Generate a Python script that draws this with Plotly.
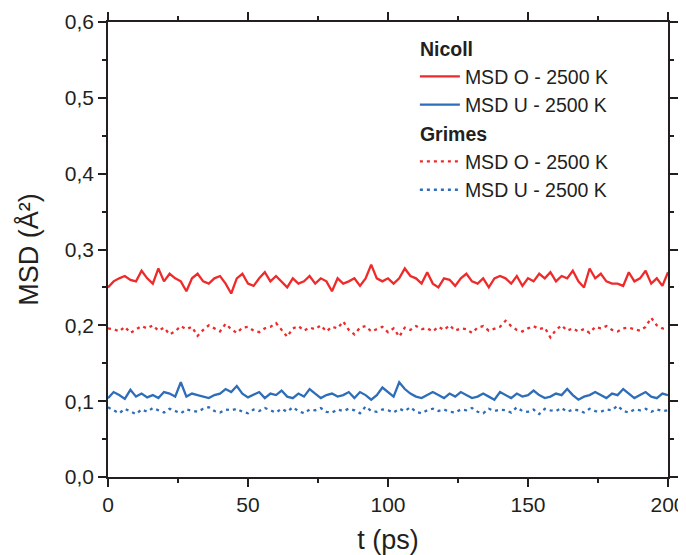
import plotly.graph_objects as go

t_ps = list(range(0, 201, 2))

nicoll_O = [
    0.250, 0.258, 0.262, 0.265, 0.260, 0.258, 0.272, 0.262, 0.255, 0.275,
    0.258, 0.268, 0.262, 0.258, 0.245, 0.262, 0.268, 0.258, 0.255, 0.262,
    0.265, 0.255, 0.242, 0.262, 0.268, 0.255, 0.252, 0.262, 0.270, 0.258,
    0.265, 0.258, 0.250, 0.262, 0.255, 0.258, 0.265, 0.255, 0.262, 0.258,
    0.245, 0.262, 0.255, 0.258, 0.262, 0.252, 0.262, 0.280, 0.262, 0.258,
    0.262, 0.255, 0.262, 0.275, 0.265, 0.262, 0.255, 0.270, 0.255, 0.250,
    0.262, 0.260, 0.252, 0.262, 0.268, 0.258, 0.255, 0.262, 0.250, 0.262,
    0.265, 0.262, 0.255, 0.265, 0.252, 0.262, 0.258, 0.268, 0.262, 0.270,
    0.258, 0.265, 0.262, 0.272, 0.258, 0.250, 0.275, 0.262, 0.268, 0.258,
    0.255, 0.255, 0.252, 0.270, 0.258, 0.262, 0.272, 0.255, 0.262, 0.252,
    0.270,
]

nicoll_U = [
    0.104, 0.112, 0.108, 0.103, 0.115, 0.106, 0.110, 0.105, 0.108, 0.104,
    0.112, 0.110, 0.106, 0.125, 0.106, 0.110, 0.108, 0.106, 0.104, 0.108,
    0.110, 0.116, 0.112, 0.120, 0.110, 0.105, 0.108, 0.112, 0.104, 0.110,
    0.108, 0.114, 0.106, 0.104, 0.110, 0.106, 0.116, 0.110, 0.104, 0.108,
    0.110, 0.106, 0.108, 0.112, 0.104, 0.112, 0.108, 0.102, 0.108, 0.118,
    0.112, 0.106, 0.125, 0.116, 0.110, 0.106, 0.104, 0.108, 0.112, 0.108,
    0.104, 0.110, 0.106, 0.112, 0.108, 0.104, 0.106, 0.110, 0.106, 0.102,
    0.112, 0.108, 0.104, 0.110, 0.106, 0.108, 0.114, 0.108, 0.104, 0.106,
    0.110, 0.108, 0.116, 0.108, 0.102, 0.106, 0.108, 0.112, 0.108, 0.104,
    0.110, 0.108, 0.116, 0.110, 0.104, 0.108, 0.112, 0.106, 0.104, 0.110,
    0.108,
]

grimes_O = [
    0.196, 0.195, 0.192, 0.198, 0.190, 0.194, 0.199, 0.196, 0.200, 0.193,
    0.197, 0.188, 0.192, 0.199, 0.195, 0.198, 0.186, 0.194, 0.200, 0.196,
    0.192, 0.202, 0.195, 0.190, 0.197, 0.198, 0.193, 0.191, 0.196, 0.198,
    0.203, 0.194, 0.185, 0.196, 0.199, 0.193, 0.197, 0.195, 0.200, 0.192,
    0.198, 0.196, 0.205, 0.194, 0.188, 0.197, 0.199, 0.192, 0.195, 0.198,
    0.191, 0.196, 0.185, 0.197, 0.194, 0.199, 0.195, 0.196, 0.192, 0.198,
    0.194, 0.200, 0.193, 0.196, 0.195, 0.190, 0.197, 0.199, 0.193, 0.196,
    0.198, 0.206, 0.199, 0.194, 0.192, 0.196, 0.199, 0.195, 0.197, 0.184,
    0.194, 0.200, 0.193, 0.196, 0.192, 0.195, 0.190, 0.198, 0.196, 0.199,
    0.194, 0.192, 0.196, 0.197, 0.195, 0.193, 0.198, 0.210, 0.200, 0.196,
    0.195,
]

grimes_U = [
    0.092, 0.088, 0.084, 0.090, 0.087, 0.083, 0.089, 0.086, 0.091, 0.088,
    0.085, 0.090, 0.087, 0.084, 0.089, 0.088, 0.086, 0.090, 0.092, 0.087,
    0.085, 0.089, 0.088, 0.090, 0.086, 0.084, 0.089, 0.087, 0.091, 0.088,
    0.085, 0.090, 0.086, 0.092, 0.087, 0.084, 0.089, 0.088, 0.091, 0.086,
    0.085, 0.089, 0.087, 0.090, 0.088, 0.084, 0.093, 0.087, 0.086, 0.089,
    0.088, 0.085, 0.090, 0.087, 0.092, 0.086, 0.084, 0.088, 0.090, 0.087,
    0.089, 0.086, 0.085, 0.089, 0.088, 0.091, 0.086, 0.084, 0.090, 0.087,
    0.089, 0.088, 0.085, 0.092, 0.087, 0.086, 0.089, 0.083, 0.090, 0.088,
    0.087, 0.091, 0.086, 0.089, 0.088, 0.085, 0.090, 0.087, 0.086, 0.089,
    0.088, 0.094, 0.087, 0.085, 0.089, 0.088, 0.090, 0.086, 0.089, 0.087,
    0.088,
]

RED = "#EE2A2A"
BLUE = "#2E6DB7"
FONT = "Arial, Liberation Sans, sans-serif"
INK = "#231F20"

fig = go.Figure()
fig.add_trace(go.Scatter(x=t_ps[:len(nicoll_O)], y=nicoll_O, mode="lines",
                         name="MSD O - 2500 K", line=dict(color=RED, width=2.3),
                         legendgroup="Nicoll", legendgrouptitle=dict(text="<b>Nicoll</b>")))
fig.add_trace(go.Scatter(x=t_ps[:len(nicoll_U)], y=nicoll_U, mode="lines",
                         name="MSD U - 2500 K", line=dict(color=BLUE, width=2.3),
                         legendgroup="Nicoll"))
fig.add_trace(go.Scatter(x=t_ps[:len(grimes_O)], y=grimes_O, mode="lines",
                         name="MSD O - 2500 K", line=dict(color=RED, width=2.3, dash="3px,4px"),
                         legendgroup="Grimes", legendgrouptitle=dict(text="<b>Grimes</b>")))
fig.add_trace(go.Scatter(x=t_ps[:len(grimes_U)], y=grimes_U, mode="lines",
                         name="MSD U - 2500 K", line=dict(color=BLUE, width=2.3, dash="3px,4px"),
                         legendgroup="Grimes"))

axis_common = dict(showline=True, linecolor=INK, linewidth=1.5, mirror="allticks",
                   ticks="outside", ticklen=8, tickwidth=1.5, tickcolor=INK,
                   showgrid=False, zeroline=False, automargin=False,
                   tickfont=dict(size=21, color=INK, family=FONT))

fig.update_xaxes(range=[0, 200], dtick=50, tick0=0,
                 minor=dict(ticks="outside", ticklen=4, tickwidth=1.5, tickcolor=INK, dtick=25),
                 title=dict(text="t (ps)", font=dict(size=27, color=INK, family=FONT), standoff=15),
                 **axis_common)
fig.update_yaxes(range=[0, 0.6], dtick=0.1, tick0=0, tickformat=".1f",
                 minor=dict(ticks="outside", ticklen=4, tickwidth=1.5, tickcolor=INK, dtick=0.05),
                 title=dict(text="MSD (Å²)", font=dict(size=27, color=INK, family=FONT), standoff=18),
                 **axis_common)

fig.update_layout(
    width=678, height=547,
    margin=dict(l=100, r=18, t=14, b=78),
    paper_bgcolor="white", plot_bgcolor="white",
    separators=",.",
    font=dict(family=FONT, color=INK),
    legend=dict(x=0.548, y=0.985, xanchor="left", yanchor="top",
                bgcolor="rgba(0,0,0,0)", tracegroupgap=0,
                font=dict(size=19.5, color=INK, family=FONT),
                grouptitlefont=dict(size=19.5, color=INK, family=FONT),
                itemwidth=40),
)

fig.write_html("out.html")
